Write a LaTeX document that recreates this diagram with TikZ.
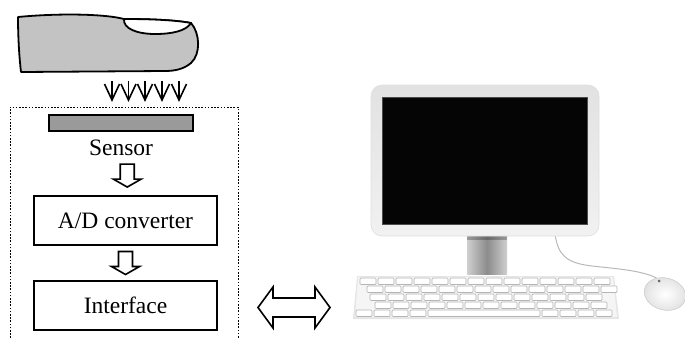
\documentclass[tikz,border=0pt]{standalone}
\usepackage{fontspec}
\setmainfont{Liberation Serif}
\usetikzlibrary{calc}

\definecolor{fingergray}{HTML}{C3C3C3}
\definecolor{sensorgray}{HTML}{9A9A9A}
\definecolor{framegrayA}{HTML}{E2E2E2}
\definecolor{framegrayB}{HTML}{F1F1F1}
\definecolor{standdark}{HTML}{8C8C8C}
\definecolor{standlight}{HTML}{CFCFCF}
\definecolor{keyline}{HTML}{B5B5B5}
\definecolor{cablegray}{HTML}{B8B8B8}

\tikzset{
  outline/.style={draw=black, line width=1.8pt, line join=round},
  stagebox/.style={draw=black, line width=2pt, fill=white,
    minimum width=183pt, minimum height=49pt, inner sep=0pt,
    font=\fontsize{23.5}{28}\selectfont},
  label text/.style={inner sep=0pt, font=\fontsize{23.5}{28}\selectfont},
  hollow/.style={draw=black, line width=1.6pt, fill=white, line join=miter},
  pressline/.style={line width=1.6pt, line join=miter},
  housing/.style={draw=black, line width=1pt, dash pattern=on 1.6pt off 1.6pt},
  keycap/.style={draw=keyline, line width=0.7pt, fill=white, rounded corners=1pt},
  pics/downblock/.style={code={
    \draw[hollow] (-7,-11.5) -- (7,-11.5) -- (7,3.5) -- (14,3.5) -- (0,11.5)
      -- (-14,3.5) -- (-7,3.5) -- cycle;}},
  pics/twoway/.style={code={
    \draw[hollow] (-36,0) -- (-21,-20.5) -- (-21,-9.5) -- (21,-9.5) -- (21,-20.5)
      -- (36,0) -- (21,20.5) -- (21,9.5) -- (-21,9.5) -- (-21,20.5) -- cycle;}},
}

\begin{document}
\begin{tikzpicture}[x=1pt, y=-1pt]
\useasboundingbox (0,0) rectangle (685,338);

% ---- finger ----
\draw[outline, fill=fingergray]
  (18,17) .. controls (60,13) and (105,14) .. (124,19)
  .. controls (150,19) and (175,20) .. (191,23)
  .. controls (200,33) and (201,54) .. (191,63)
  .. controls (184,69) and (175,71) .. (165,71)
  -- (21,72) .. controls (19,55) and (18,35) .. (18,17) -- cycle;
% fingernail
\draw[outline, fill=white]
  (124,19) .. controls (123,29) and (138,34) .. (155,34)
  .. controls (172,34) and (186,31) .. (191,23)
  .. controls (175,20) and (150,19) .. (124,19) -- cycle;

% ---- pressure arrows onto the sensor ----
\foreach \x [count=\i] in {112,128.5,145,162,179} {
  \coordinate (ptop\i) at (\x,81);
  \coordinate (pbot\i) at (\x,100);
  \draw[pressline] (ptop\i) -- (pbot\i);
  \draw[pressline] ($(pbot\i)+(-7.5,-16)$) -- (pbot\i) -- ($(pbot\i)+(7.5,-16)$);
}

% ---- scanner housing (dotted, open at the bottom) ----
\draw[housing] (10,338) -- (10,107) -- (238,107) -- (238,338);

% ---- sensor and processing chain ----
\node[draw=black, line width=2pt, fill=sensorgray, minimum width=144pt,
      minimum height=16pt, inner sep=0pt] (sensor) at (121,123) {};
\node[label text] (sensorlbl) at (121,148) {Sensor};
\node[stagebox] (adc) at (125.5,220.5) {A/D converter};
\node[stagebox] (iface) at (125.5,305.5) {Interface};

\coordinate (arrA) at ($(sensorlbl.south)!0.5!(adc.north)+(4,0)$);
\coordinate (arrB) at ($(adc.south)!0.5!(iface.north)$);
\pic at (arrA) {downblock};
\pic at (arrB) {downblock};

% ---- link to the computer ----
\coordinate (link) at (294,307.5);
\pic at (link) {twoway};

% ---- computer ----
% cable to the mouse
\draw[cablegray, line width=1pt]
  (555,234) .. controls (558,255) and (566,263) .. (592,266)
  .. controls (620,269) and (645,271) .. (658,279);
% stand
\shade[left color=standlight, right color=standlight, middle color=standdark]
  (467,232) rectangle (507,274);
\fill[black, opacity=0.25] (467,233) rectangle (507,240);
% monitor frame
\shade[top color=framegrayA, bottom color=framegrayB, rounded corners=11pt]
  (371,85) rectangle (599,236);
\draw[gray!25, line width=0.6pt, rounded corners=11pt] (371,85) rectangle (599,236);
% screen
\fill[black!98] (382,97) rectangle (587,224);
\draw[black!70, line width=0.6pt] (382,97) rectangle (587,224);

% keyboard
\fill[black!10] (357,276) -- (614,276) -- (619,319) -- (353,319) -- cycle;
\fill[black!4] (358,277) -- (613,277) -- (617,317) -- (355,317) -- cycle;
\foreach \r/\off/\n in {0/0/14, 1/8/14, 2/12/13, 3/18/13} {
  \foreach \k in {0,...,\numexpr\n-1\relax} {
    \pgfmathsetmacro{\kx}{360+\off+\k*18 - \r*1}
    \draw[keycap] (\kx,278+\r*8) rectangle ++(16,6.5);
  }
}
\foreach \kx in {356,374,392,410} {\draw[keycap] (\kx,310) rectangle ++(16,6.5);}
\draw[keycap] (428,310) rectangle (540,316.5);
\foreach \kx in {542,560,578,596} {\draw[keycap] (\kx,310) rectangle ++(16,6.5);}

% mouse
\shade[inner color=white, outer color=black!12, rotate around={-15:(665,294)}]
  (665,294) ellipse (21 and 16);
\draw[black!20, line width=0.6pt, rotate around={-15:(665,294)}]
  (665,294) ellipse (21 and 16);
\fill[black!60] (659,281) circle (1.5);
\end{tikzpicture}
\end{document}
